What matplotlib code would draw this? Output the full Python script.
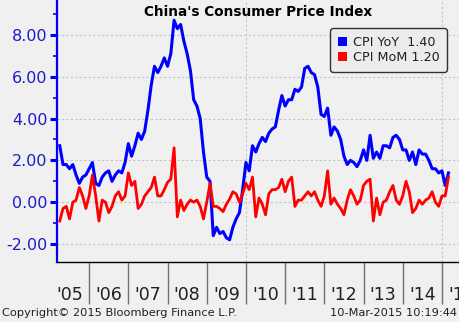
import matplotlib
matplotlib.use("Agg")
import matplotlib.pyplot as plt
from matplotlib.patches import Patch
import numpy as np

# monthly data, Mar 2005 .. Feb 2015
start_year, start_month = 2005, 3
cpi_yoy = [2.7, 1.8, 1.8, 1.6, 1.8, 1.3, 0.9, 1.2, 1.3, 1.6,
           1.9, 0.9, 0.8, 1.2, 1.4, 1.5, 1.0, 1.3, 1.5, 1.4, 1.9, 2.8,
           2.2, 2.7, 3.3, 3.0, 3.4, 4.4, 5.6, 6.5, 6.2, 6.5, 6.9, 6.5,
           7.1, 8.7, 8.3, 8.5, 7.7, 7.1, 6.3, 4.9, 4.6, 4.0, 2.4, 1.2,
           1.0, -1.6, -1.2, -1.5, -1.4, -1.7, -1.8, -1.2, -0.8, -0.5, 0.6, 1.9,
           1.5, 2.7, 2.4, 2.8, 3.1, 2.9, 3.3, 3.5, 3.6, 4.4, 5.1, 4.6,
           4.9, 4.9, 5.4, 5.3, 5.5, 6.4, 6.5, 6.2, 6.1, 5.5, 4.2, 4.1,
           4.5, 3.2, 3.6, 3.4, 3.0, 2.2, 1.8, 2.0, 1.9, 1.7, 2.0, 2.5,
           2.0, 3.2, 2.1, 2.4, 2.1, 2.7, 2.7, 2.6, 3.1, 3.2, 3.0, 2.5,
           2.5, 2.0, 2.4, 1.8, 2.5, 2.3, 2.3, 2.0, 1.6, 1.6, 1.4, 1.5,
           0.8, 1.4]
cpi_mom = [-0.9, -0.3, -0.2, -0.8, 0.0, 0.1, 0.7, 0.3, -0.3, 0.3,
           1.3, 0.3, -0.9, 0.1, 0.0, -0.5, -0.2, 0.3, 0.5, 0.1, 0.3, 1.4,
           0.8, 1.0, -0.3, -0.1, 0.3, 0.5, 0.7, 1.2, 0.3, 0.3, 0.6, 0.95,
           1.1, 2.6, -0.7, 0.1, -0.4, -0.1, 0.1, 0.0, 0.1, -0.2, -0.8, 0.0,
           0.9, -0.2, -0.2, -0.3, -0.45, -0.1, 0.15, 0.5, 0.4, 0.0, 0.4, 0.9,
           0.6, 1.2, -0.7, 0.2, -0.1, -0.6, 0.4, 0.6, 0.6, 0.7, 1.1, 0.5,
           1.0, 1.2, -0.2, 0.1, 0.1, 0.3, 0.5, 0.3, 0.5, 0.1, -0.2, 0.3,
           1.5, -0.1, 0.2, -0.1, -0.3, -0.6, 0.1, 0.6, 0.3, -0.1, 0.1, 0.8,
           1.0, 1.1, -0.9, 0.2, -0.6, 0.0, 0.1, 0.5, 0.8, 0.1, -0.1, 0.3,
           1.0, 0.5, -0.5, -0.3, 0.1, -0.1, 0.1, 0.2, 0.5, 0.0, -0.2, 0.3,
           0.3, 1.2]
year_labels = ["'05", "'06", "'07", "'08", "'09", "'10", "'11", "'12", "'13", "'14", "'15"]

# end-of-month positions in fractional years
n = len(cpi_yoy)
t = start_year + (start_month - 1 + np.arange(n) + 1) / 12.0

bg = '#f0f0f0'
blue = '#0000ff'
red = '#ff0000'
labblue = '#1c1cc8'

fig = plt.figure(figsize=(4.59, 3.22), dpi=100, facecolor=bg)
ax = fig.add_axes([57/459, 60/322, 410/459, 262/322], facecolor=bg)

ax.plot(t, cpi_yoy, color=blue, lw=2.2, solid_joinstyle='round', zorder=3)
ax.plot(t, cpi_mom, color=red, lw=2.0, solid_joinstyle='round', zorder=4)

ax.set_xlim(2005.18, 2005.18 + 410/39.2)
ax.set_ylim(-2.86, 9.67)

# y axis
ax.set_yticks([-2, 0, 2, 4, 6, 8])
ax.set_yticklabels(['%.2f' % v for v in [-2, 0, 2, 4, 6, 8]])
ax.set_yticks([-1, 1, 3, 5, 7, 9], minor=True)
ax.tick_params(axis='y', which='major', colors=blue, labelcolor=labblue,
               length=5, width=2.2, labelsize=11.5, pad=2)
ax.tick_params(axis='y', which='minor', colors=blue, length=3, width=1.2)
for v in [-2, 0, 2, 4, 6, 8]:
    ax.axhline(v, color='#c4c4c4', lw=0.8, ls=(0, (2, 2)), zorder=1)
for v in [2010, 2015]:
    ax.axvline(v, color='#c4c4c4', lw=0.8, ls=(0, (2, 2)), zorder=1)

# x axis: year separators + centered labels
ax.set_xticks(np.arange(2006, 2016))
ax.set_xticklabels([])
ax.set_xticks(np.arange(2005, 2016) + 0.5, minor=True)
ax.set_xticklabels(year_labels, minor=True)
ax.tick_params(axis='x', which='major', direction='out', length=30, width=1, color='#707070')
ax.tick_params(axis='x', which='minor', length=0, labelsize=12.5, pad=17, labelcolor='#202020')

for s in ['top', 'right']:
    ax.spines[s].set_visible(False)
ax.spines['left'].set_color(blue)
ax.spines['left'].set_linewidth(1.6)
ax.spines['bottom'].set_color('black')
ax.spines['bottom'].set_linewidth(1.0)

ax.text(0.49, 1 - 12/262, "China's Consumer Price Index", transform=ax.transAxes,
        ha='center', va='center', fontsize=9.8, fontweight='bold')

handles = [Patch(facecolor=blue, edgecolor='none'), Patch(facecolor=red, edgecolor='none')]
leg = ax.legend(handles, ['CPI YoY  1.40', 'CPI MoM 1.20'], loc='upper right',
                bbox_to_anchor=(390/410, 1 - 28/262), borderaxespad=0,
                fontsize=9.2, handlelength=0.75, handleheight=0.75, handletextpad=0.4,
                labelspacing=0.2, borderpad=0.6, fancybox=True,
                facecolor='#ececec', edgecolor='#303030', framealpha=1)
leg.get_frame().set_linewidth(1.0)
for txt in leg.get_texts():
    txt.set_color('#202020')

fig.text(2/459, 1 - 313/322, "Copyright\u00a9 2015 Bloomberg Finance L.P.", ha='left', va='center',
         fontsize=8.2, color='#202020')
fig.text(457/459, 1 - 313/322, "10-Mar-2015 10:19:44", ha='right', va='center',
         fontsize=8.2, color='#202020')

fig.savefig('out.png', dpi=100, facecolor=bg)
